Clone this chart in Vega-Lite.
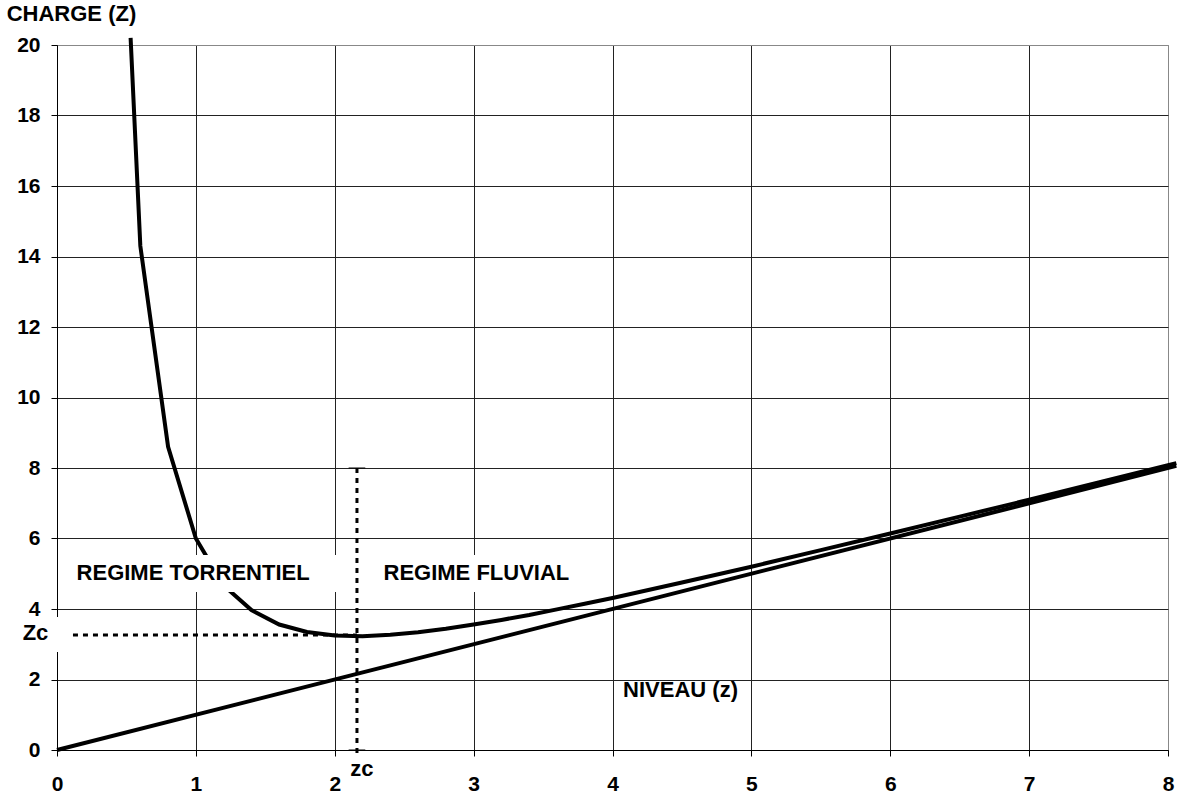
{
  "$schema": "https://vega.github.io/schema/vega-lite/v6.json",
  "width": 1111,
  "height": 705,
  "autosize": "none",
  "padding": {"left": 57, "top": 45, "right": 18, "bottom": 43},
  "background": "white",
  "config": {
    "view": {"stroke": "#888888", "strokeWidth": 1},
    "font": "Liberation Sans"
  },
  "datasets": {
    "curves": [
      {"series": "charge", "z": 0.53, "H": 20.2},
      {"series": "charge", "z": 0.6, "H": 14.3},
      {"series": "charge", "z": 0.8, "H": 8.6},
      {"series": "charge", "z": 1.0, "H": 6.0},
      {"series": "charge", "z": 1.2, "H": 4.67},
      {"series": "charge", "z": 1.4, "H": 3.97},
      {"series": "charge", "z": 1.6, "H": 3.56},
      {"series": "charge", "z": 1.8, "H": 3.35},
      {"series": "charge", "z": 2.0, "H": 3.25},
      {"series": "charge", "z": 2.2, "H": 3.23},
      {"series": "charge", "z": 2.4, "H": 3.27},
      {"series": "charge", "z": 2.6, "H": 3.34},
      {"series": "charge", "z": 2.8, "H": 3.44},
      {"series": "charge", "z": 3.0, "H": 3.56},
      {"series": "charge", "z": 3.2, "H": 3.69},
      {"series": "charge", "z": 3.4, "H": 3.83},
      {"series": "charge", "z": 3.6, "H": 3.99},
      {"series": "charge", "z": 3.8, "H": 4.15},
      {"series": "charge", "z": 4.0, "H": 4.31},
      {"series": "charge", "z": 4.5, "H": 4.75},
      {"series": "charge", "z": 5.0, "H": 5.2},
      {"series": "charge", "z": 5.5, "H": 5.67},
      {"series": "charge", "z": 6.0, "H": 6.14},
      {"series": "charge", "z": 6.5, "H": 6.62},
      {"series": "charge", "z": 7.0, "H": 7.1},
      {"series": "charge", "z": 7.5, "H": 7.59},
      {"series": "charge", "z": 8.0, "H": 8.08},
      {"series": "charge", "z": 8.06, "H": 8.14},
      {"series": "niveau", "z": 0, "H": 0},
      {"series": "niveau", "z": 8.06, "H": 8.06}
    ],
    "boxes": [
      {"x1": 0.06, "x2": 2.07, "y1": 4.48, "y2": 5.53},
      {"x1": 2.22, "x2": 3.8, "y1": 4.48, "y2": 5.53},
      {"x1": -0.4, "x2": 0.09, "y1": 2.78, "y2": 3.77}
    ],
    "dashes": [
      {"series": "h", "x": 0.115, "y": 3.26},
      {"series": "h", "x": 2.16, "y": 3.26},
      {"series": "v", "x": 2.16, "y": 8},
      {"series": "v", "x": 2.16, "y": -0.23}
    ],
    "ticks": [
      {"series": "top", "x": 2.1, "y": 8},
      {"series": "top", "x": 2.22, "y": 8},
      {"series": "bot", "x": 2.1, "y": 0},
      {"series": "bot", "x": 2.22, "y": 0}
    ],
    "labels": [
      {"label": "REGIME TORRENTIEL", "x": 0.98, "y": 5.03},
      {"label": "REGIME FLUVIAL", "x": 3.02, "y": 5.02},
      {"label": "NIVEAU (z)", "x": 4.49, "y": 1.7},
      {"label": "Zc", "x": -0.155, "y": 3.33},
      {"label": "zc", "x": 2.196, "y": -0.54},
      {"label": "CHARGE (Z)", "x": 0.104, "y": 20.88}
    ]
  },
  "layer": [
    {
      "data": {"name": "curves"},
      "mark": {"type": "line", "color": "black", "strokeWidth": 4, "clip": false},
      "encoding": {
        "x": {
          "field": "z", "type": "quantitative",
          "scale": {"domain": [0, 8], "nice": false, "zero": false},
          "axis": {
            "values": [0, 1, 2, 3, 4, 5, 6, 7, 8],
            "format": "d",
            "title": null,
            "grid": true,
            "gridColor": {"condition": {"test": "datum.value == 8", "value": "#888888"}, "value": "#222222"},
            "gridWidth": 1,
            "domainColor": "black",
            "tickColor": "black",
            "tickSize": 6,
            "labelFont": "Liberation Sans",
            "labelFontWeight": "bold",
            "labelFontSize": 21,
            "labelColor": "black",
            "labelPadding": 17,
            "labelFlush": false
          }
        },
        "y": {
          "field": "H", "type": "quantitative",
          "scale": {"domain": [0, 20], "nice": false, "zero": false},
          "axis": {
            "values": [0, 2, 4, 6, 8, 10, 12, 14, 16, 18, 20],
            "format": "d",
            "title": null,
            "grid": true,
            "gridColor": {"condition": {"test": "datum.value == 20", "value": "#888888"}, "value": "#222222"},
            "gridWidth": 1,
            "domainColor": "black",
            "tickColor": "black",
            "tickSize": 6,
            "labelFont": "Liberation Sans",
            "labelFontWeight": "bold",
            "labelFontSize": 21,
            "labelColor": "black",
            "labelPadding": 11,
            "labelFlush": false
          }
        },
        "detail": {"field": "series"},
        "order": {"field": "z", "type": "quantitative"}
      }
    },
    {
      "data": {"name": "boxes"},
      "mark": {"type": "rect", "color": "white", "clip": false},
      "encoding": {
        "x": {"field": "x1", "type": "quantitative"},
        "x2": {"field": "x2"},
        "y": {"field": "y1", "type": "quantitative"},
        "y2": {"field": "y2"}
      }
    },
    {
      "data": {"name": "dashes"},
      "mark": {"type": "line", "color": "black", "strokeWidth": 3, "strokeDash": [5, 5], "clip": false},
      "encoding": {
        "x": {"field": "x", "type": "quantitative"},
        "y": {"field": "y", "type": "quantitative"},
        "detail": {"field": "series"}
      }
    },
    {
      "data": {"name": "ticks"},
      "mark": {"type": "line", "color": "black", "strokeWidth": 1, "clip": false},
      "encoding": {
        "x": {"field": "x", "type": "quantitative"},
        "y": {"field": "y", "type": "quantitative"},
        "detail": {"field": "series"}
      }
    },
    {
      "data": {"name": "labels"},
      "mark": {"type": "text", "font": "Liberation Sans", "fontWeight": "bold", "fontSize": 22, "color": "black", "align": "center", "baseline": "middle", "clip": false},
      "encoding": {
        "x": {"field": "x", "type": "quantitative"},
        "y": {"field": "y", "type": "quantitative"},
        "text": {"field": "label"}
      }
    }
  ]
}
